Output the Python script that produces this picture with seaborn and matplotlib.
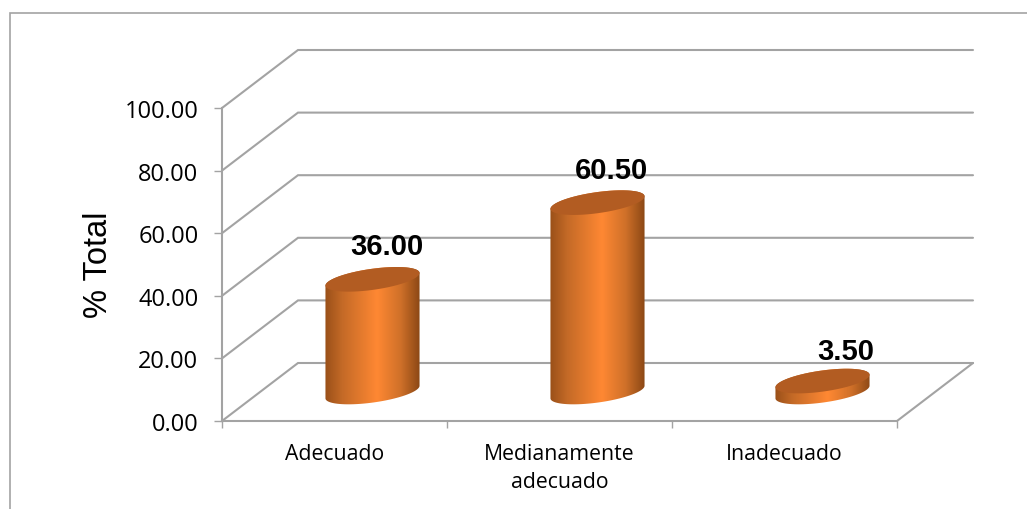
import numpy as np
import seaborn as sns
import matplotlib.pyplot as plt
from matplotlib.colors import LinearSegmentedColormap
from matplotlib.patches import PathPatch, Polygon, Rectangle
from matplotlib.path import Path

categories = ['Adecuado', 'Medianamente\nadecuado', 'Inadecuado']
values = [36.00, 60.50, 3.50]
y_ticks = [0, 20, 40, 60, 80, 100]

sns.set_theme(style='white')

GRAY = '#a3a3a3'
W, H = 1027, 510
fig = plt.figure(figsize=(W / 100, H / 100), dpi=100, facecolor='white')
ax = fig.add_axes([222 / W, (H - 422) / H, 675 / W, 313 / H])
ax.patch.set_alpha(0)

sns.barplot(x=categories, y=values, width=92 / 225, color='#ff8833', ax=ax, zorder=3)
ax.set_xlim(-0.5, 2.5)
ax.set_ylim(0, 100)

# pixel <-> data scale of the front plane
px_x = 225.0
px_y = 3.13
depth_x = 76 / px_x
depth_y = 58 / px_y

# back wall, floor and side
for v in y_ticks:
    ax.plot([-0.5, -0.5 + depth_x, 2.5 + depth_x], [v, v + depth_y, v + depth_y],
            color=GRAY, lw=1.5, clip_on=False, zorder=1, solid_joinstyle='miter')
ax.plot([2.5, 2.5 + depth_x], [0, depth_y], color=GRAY, lw=1.5, clip_on=False, zorder=1)

shade = LinearSegmentedColormap.from_list(
    'cyl', [(0, '#9a5019'), (0.18, '#c46a27'), (0.55, '#ff8833'), (0.8, '#cf7029'), (1, '#8c4815')])


def ellipse(cx, cy, start, stop, a=47.5, b=10.5, tilt=8):
    # tilted ellipse, worked out in pixels and returned in data units
    t = np.radians(np.linspace(start, stop, 60))
    th = np.radians(tilt)
    ex = a * np.cos(t) * np.cos(th) - b * np.sin(t) * np.sin(th)
    ey = a * np.cos(t) * np.sin(th) + b * np.sin(t) * np.cos(th)
    return np.column_stack([cx + ex / px_x, cy + ey / px_y])


for i, bar in enumerate(list(ax.patches)):
    bar.set_visible(False)
    cx = bar.get_x() + bar.get_width() / 2 + depth_x / 2
    base = depth_y / 2
    top = base + bar.get_height()
    x0, x1 = cx - 47.5 / px_x, cx + 47.5 / px_x

    # body: upper half of the top cap joined to lower half of the bottom cap
    outline = np.vstack([ellipse(cx, top, 0, 180), ellipse(cx, base, 180, 360)])
    clip = PathPatch(Path(np.vstack([outline, outline[0]]), closed=True),
                     transform=ax.transData, fc='none', ec='none')
    ax.add_patch(clip)
    img = ax.imshow(np.linspace(0, 1, 128)[None, :], cmap=shade, aspect='auto',
                    extent=[x0, x1, base - 15, top + 15], zorder=3)
    img.set_clip_path(clip)

    ax.add_patch(Polygon(ellipse(cx, top, 0, 360), closed=True, fc='#b25c22', ec='none',
                         zorder=4, clip_on=False))

    shift = 23 if i == 2 else 14
    lift = 30 if i == 2 else 33
    ax.annotate(f'{values[i]:.2f}', (cx, top), xytext=(shift * 0.72, lift * 0.72),
                textcoords='offset points', ha='center', va='center', fontsize=21,
                fontweight='bold', family='Liberation Sans', color='black', zorder=6,
                annotation_clip=False)

ax.set_xlim(-0.5, 2.5)
ax.set_ylim(0, 100)

ax.set_yticks(y_ticks)
ax.set_yticklabels([f'{v:.2f}' for v in y_ticks], fontsize=17, family='Open Sans', color='black')
ax.set_xticks([0, 1, 2])
ax.set_xticklabels(categories, fontsize=15.3, family='Open Sans', color='black', linespacing=1.45)
ax.set_xticks([-0.5, 0.5, 1.5, 2.5], minor=True)
ax.tick_params(axis='y', which='major', left=True, length=6, width=1, color=GRAY, pad=11)
ax.tick_params(axis='x', which='major', length=0, pad=16)
ax.tick_params(axis='x', which='minor', bottom=True, length=5, width=1, color=GRAY)

sns.despine(ax=ax, top=True, right=True)
for side in ['left', 'bottom']:
    ax.spines[side].set_color(GRAY)
    ax.spines[side].set_linewidth(1.5)

ax.set_ylabel('% Total', fontsize=23.5, family='Liberation Sans', color='black')
ax.yaxis.set_label_coords((114 - 222) / 675, (422 - 265) / 313)
ax.set_xlabel('')

# outer chart frame, cut off by the picture at right and bottom
fig.add_artist(Rectangle((10 / W, -0.1), 1.2, (H - 14) / H + 0.1, transform=fig.transFigure,
                         fc='none', ec=GRAY, lw=1.2))

plt.savefig('out.png', dpi=100, facecolor='white')
